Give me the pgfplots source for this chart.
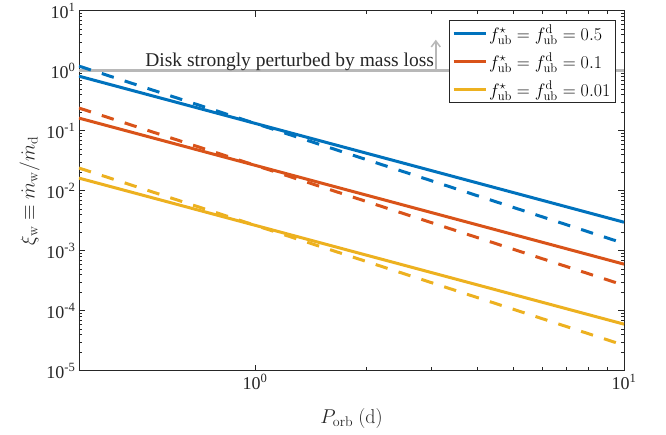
\documentclass[border=0pt]{standalone}
\usepackage{fix-cm}
\usepackage[no-math]{fontspec}
\setmainfont{Liberation Serif}
\usepackage{pgfplots}
\pgfplotsset{compat=1.18}
\usetikzlibrary{arrows.meta}
\definecolor{mblue}{rgb}{0,0.447,0.741}
\definecolor{mred}{rgb}{0.85,0.325,0.098}
\definecolor{myel}{rgb}{0.929,0.694,0.125}
\definecolor{axgray}{rgb}{0.15,0.15,0.15}
\definecolor{lgray}{rgb}{0.72,0.72,0.72}
\begin{document}
\begin{tikzpicture}
\begin{axis}[
  at={(0,0)}, anchor=south west,
  scale only axis, width=545pt, height=360pt,
  xmode=log, ymode=log,
  xmin=0.33333, xmax=10, ymin=1e-5, ymax=10,
  xtick={1,10},
  xticklabels={10\textsuperscript{0},10\textsuperscript{1}},
  ytick={1e-5,1e-4,1e-3,1e-2,1e-1,1,10},
  yticklabels={10\textsuperscript{-5},10\textsuperscript{-4},10\textsuperscript{-3},10\textsuperscript{-2},10\textsuperscript{-1},10\textsuperscript{0},10\textsuperscript{1}},
  tick label style={font=\fontsize{18}{20}\selectfont, text=axgray},
  label style={font=\fontsize{20}{24}\selectfont, text=axgray},
  xlabel style={yshift=-12pt},
  xlabel={$P_\mathrm{orb}\ (\mathrm{d})$},
  ylabel={$\xi_\mathrm{w}\equiv\dot{m}_\mathrm{w}/\dot{m}_\mathrm{d}$},
  axis line style={axgray, line width=0.8pt},
  every tick/.style={axgray, line width=0.8pt},
  major tick length=6pt, minor tick length=3.5pt,
  legend style={at={(0.985,0.975)}, anchor=north east,
    font=\fontsize{18}{20}\selectfont, draw=axgray, line width=0.8pt,
    row sep=7pt, inner xsep=3pt, inner ysep=3pt},
  legend cell align=left,
  legend image code/.code={\draw[#1, line width=3pt] (0pt,0pt) -- (32pt,0pt);},
]
\addplot[lgray, line width=3.2pt, forget plot] coordinates {(0.33333,1) (10,1)};
\addplot[mblue, line width=3pt] coordinates {(0.33333,0.815) (10,3.0e-3)};
\addlegendentry{$f^\star_\mathrm{ub}=f^\mathrm{d}_\mathrm{ub}=0.5$}
\addplot[mred, line width=3pt] coordinates {(0.33333,0.163) (10,6.0e-4)};
\addlegendentry{$f^\star_\mathrm{ub}=f^\mathrm{d}_\mathrm{ub}=0.1$}
\addplot[myel, line width=3pt] coordinates {(0.33333,0.0163) (10,6.0e-5)};
\addlegendentry{$f^\star_\mathrm{ub}=f^\mathrm{d}_\mathrm{ub}=0.01$}
\addplot[mblue, line width=3pt, dash pattern=on 12.5pt off 11.5pt, forget plot] coordinates {(0.33333,1.2) (10,1.33e-3)};
\addplot[mred, line width=3pt, dash pattern=on 12.5pt off 11.5pt, forget plot] coordinates {(0.33333,0.24) (10,2.67e-4)};
\addplot[myel, line width=3pt, dash pattern=on 12.5pt off 11.5pt, forget plot] coordinates {(0.33333,0.024) (10,2.67e-5)};
\draw[lgray, line width=1.5pt, -{Straight Barb[length=6pt,width=9pt]}] (axis cs:3.09,1) -- (axis cs:3.09,3.3);
\node[anchor=base east, inner sep=0pt, text=axgray, font=\fontsize{19.5}{22}\selectfont] at (axis cs:3.06,1.166) {Disk strongly perturbed by mass loss};
\end{axis}
\path (-79pt,-64pt) rectangle (587pt,368pt);
\end{tikzpicture}
\end{document}
